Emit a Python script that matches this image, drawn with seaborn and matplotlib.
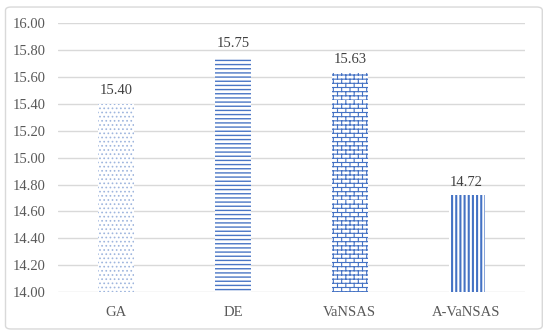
import warnings
import numpy as np
import pandas as pd
import matplotlib
matplotlib.use("Agg")
import matplotlib.pyplot as plt
import matplotlib.hatch as mhatch
from matplotlib.path import Path
from matplotlib.patches import FancyBboxPatch
import seaborn as sns

warnings.filterwarnings("ignore")

methods = ["GA", "DE", "VaNSAS", "A-VaNSAS"]
values = [15.40, 15.75, 15.63, 14.72]
hatches = ["....", "----", "bbbb", "||||"]
hatch_colors = ["#9fb6de", "#4a76c5", "#4472C4", "#4472C4"]
hatch_widths = [0.7, 1.0, 0.8, 1.5]


class BrickHatch(mhatch.HatchPatternBase):
    """brick wall pattern, 'b' in the hatch string"""
    def __init__(self, hatch, density):
        self.rows = hatch.count('b') * density
        self.cols = self.rows // 2
        self.num_vertices = 2 * self.rows + 2 * self.rows * self.cols

    def set_vertices_and_codes(self, vertices, codes):
        k = 0
        for i in range(self.rows):
            y = i / self.rows
            vertices[k] = (0, y)
            vertices[k + 1] = (1, y)
            k += 2
            off = 0.5 * (i % 2)
            for j in range(self.cols):
                x = (j + off) / self.cols
                vertices[k] = (x, y)
                vertices[k + 1] = (x, y + 1 / self.rows)
                k += 2
        codes[0::2] = Path.MOVETO
        codes[1::2] = Path.LINETO


mhatch._hatch_types.append(BrickHatch)

sns.set_theme(style="white")
plt.rcParams["font.family"] = ["Liberation Serif", "DejaVu Serif"]
plt.rcParams["hatch.linewidth"] = 1.0

df = pd.DataFrame({"method": methods, "value": values})

fig = plt.figure(figsize=(5.5, 3.35), dpi=100)
ax = fig.add_axes([0.1055, 0.128, 0.849, 0.803])

# rounded outer frame
frame = FancyBboxPatch((0.010, 0.018), 0.976, 0.961, boxstyle="round,pad=0,rounding_size=0.01",
                       transform=fig.transFigure, fill=False, edgecolor="#d9d9d9", linewidth=1.0)
fig.patches.append(frame)

sns.barplot(data=df, x="method", y="value", ax=ax, width=0.31, color="white",
            edgecolor="none", linewidth=0)
for bar, h, c, lw in zip(ax.patches, hatches, hatch_colors, hatch_widths):
    bar.set_hatch(h)
    bar.set_facecolor("white")
    bar.set_edgecolor(c)
    bar.set_linewidth(0)
    try:
        bar.set_hatch_linewidth(lw)
    except AttributeError:
        pass

ax.set_ylim(14.0, 16.0)
yt = np.arange(14.0, 16.01, 0.2)
ax.set_yticks(yt)
ax.set_yticklabels([f"{v:.2f}" for v in yt])
ax.yaxis.grid(True, color="#d9d9d9", linewidth=1.0)
ax.set_axisbelow(True)
for s in ax.spines.values():
    s.set_visible(False)
ax.set_xlabel("")
ax.set_ylabel("")
ax.tick_params(axis="both", length=0, labelsize=10.5, colors="#595959")
ax.tick_params(axis="y", pad=9)
ax.tick_params(axis="x", pad=10)

for i, v in enumerate(values):
    ax.text(i, v + 0.05, f"{v:.2f}", ha="center", va="bottom", fontsize=10.5, color="#404040")

fig.savefig("out.png", dpi=100)
